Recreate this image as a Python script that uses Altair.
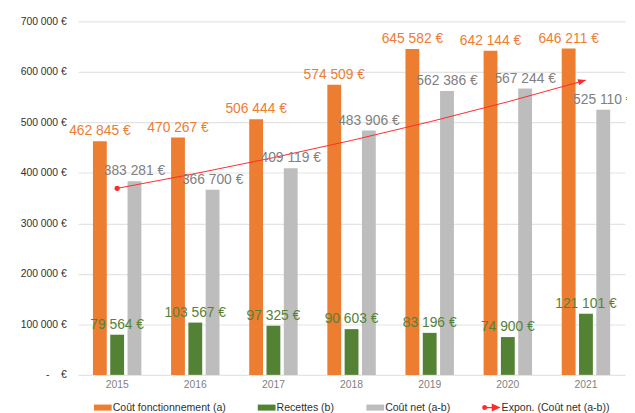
import altair as alt
import pandas as pd

years = ["2015", "2016", "2017", "2018", "2019", "2020", "2021"]
cout_fonct = [462845, 470267, 506444, 574509, 645582, 642144, 646211]
recettes = [79564, 103567, 97325, 90603, 83196, 74900, 121101]
cout_net = [383281, 366700, 409119, 483906, 562386, 567244, 525110]
trend_net = [369400, 398700, 430300, 464400, 501200, 540900, 583800]
series = ["Coût fonctionnement (a)", "Recettes (b)", "Coût net (a-b)"]
trend_name = "Expon. (Coût net (a-b))"
y_ticks = [0, 100000, 200000, 300000, 400000, 500000, 600000, 700000]

bar_colors = ["#ED7D31", "#548235", "#BDBDBD"]
label_colors = ["#ED7D31", "#548235", "#808080"]
trend_color = "#FF2B2B"

rows = []
for s, vals in zip(series, [cout_fonct, recettes, cout_net]):
    for yr, v in zip(years, vals):
        rows.append({"annee": yr, "serie": s, "valeur": v})
df = pd.DataFrame(rows)
trend_df = pd.DataFrame({"annee": years, "serie": trend_name, "valeur": trend_net})

FONT = "Liberation Sans"

x_enc = alt.X(
    "annee:N",
    scale=alt.Scale(domain=years, paddingInner=0.38, paddingOuter=0.19),
    axis=alt.Axis(title=None, labelAngle=0, labelColor="#7F7F7F", labelFontSize=10.5,
                  labelPadding=5, ticks=False, domain=False, grid=False),
)
y_enc = alt.Y(
    "valeur:Q",
    scale=alt.Scale(domain=[0, 700000], nice=False),
    axis=alt.Axis(
        values=y_ticks, title=None, ticks=False, domain=False, grid=True,
        gridColor="#E4E4E4", gridWidth=1.2, labelPadding=12, labelFontSize=10.5,
        labelColor="#303030",
        labelExpr="datum.value == 0 ? '-\u00a0\u00a0\u00a0\u00a0€' : replace(format(datum.value, ','), ',', ' ') + ' €'",
    ),
)

rect_path = "M-1,-0.34H1V0.34H-1Z"
trend_path = ("M-1.08,0A0.28,0.28 0 1,1 -0.52,0A0.28,0.28 0 1,1 -1.08,0Z"
              "M-0.8,-0.07H0.1V0.07H-0.8Z"
              "M0,-0.45L1,0L0,0.45Z")
sym_expr = "datum.value == '" + trend_name + "' ? '" + trend_path + "' : '" + rect_path + "'"

color_enc = alt.Color(
    "serie:N",
    scale=alt.Scale(domain=series + [trend_name], range=bar_colors + [trend_color]),
    legend=alt.Legend(
        title=None, orient="none", legendX=16, legendY=382, direction="horizontal",
        symbolType=alt.ExprRef(expr=sym_expr), symbolSize=324, symbolStrokeWidth=0,
        labelFontSize=10.7, labelColor="#303030", labelFont=FONT, columnPadding=32,
        labelOffset=1, symbolOpacity=1,
    ),
)

x_off = alt.XOffset("serie:N", scale=alt.Scale(domain=series, paddingInner=0.2, paddingOuter=0))

bars = alt.Chart(df).mark_bar().encode(x=x_enc, xOffset=x_off, y=y_enc, color=color_enc)

labels = alt.Chart(df).transform_calculate(
    lbl="replace(format(datum.valeur, ','), ',', ' ') + ' €'"
).mark_text(baseline="alphabetic", dy=-6, fontSize=14, font=FONT).encode(
    x=x_enc, xOffset=x_off, y=y_enc, text="lbl:N",
    fill=alt.Fill("serie:N", scale=alt.Scale(domain=series, range=label_colors), legend=None),
)

line = alt.Chart(trend_df).mark_line(strokeWidth=1).encode(x=x_enc, y=y_enc, color=color_enc)

dot = alt.Chart(trend_df).transform_filter(
    "datum.annee == '" + years[0] + "'"
).mark_point(filled=True, size=28, color=trend_color, opacity=1).encode(x=x_enc, y=y_enc)

arrow = alt.Chart(trend_df).transform_filter(
    "datum.annee == '" + years[-1] + "'"
).mark_point(filled=True, shape="M0,0L-1,-0.4L-1,0.4Z", size=256, angle=344.5,
             color=trend_color, opacity=1).encode(x=x_enc, y=y_enc)

chart = alt.layer(bars, line, dot, arrow, labels).properties(
    width=554, height=358,
    autosize=alt.AutoSizeParams(type="none"),
    padding={"left": 71, "top": 11, "right": 2, "bottom": 36},
).configure(font=FONT).configure_view(stroke=None)

chart.save("out.html", embed_options={"renderer": "svg", "actions": False})
